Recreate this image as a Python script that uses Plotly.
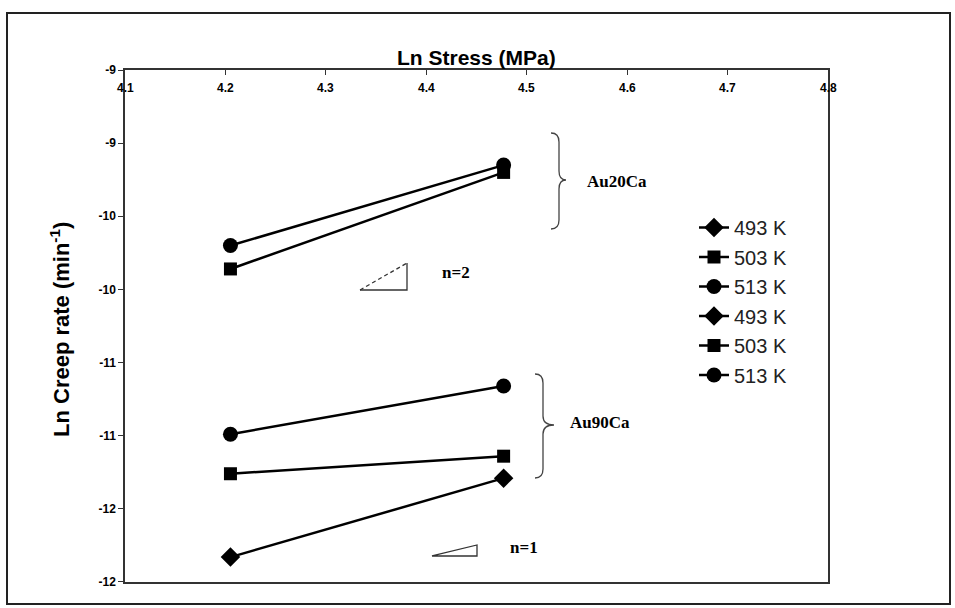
import plotly.graph_objects as go

# ---- data -------------------------------------------------------------
ln_stress = [4.205, 4.477]

au20_493 = [None, None]          # no Au20Ca points at 493 K
au20_503 = [-9.86, -9.20]
au20_513 = [-9.70, -9.15]
au90_493 = [-11.83, -11.29]
au90_503 = [-11.26, -11.14]
au90_513 = [-10.99, -10.66]

series_names = ["493 K", "503 K", "513 K", "493 K", "503 K", "513 K"]
series_values = [au20_493, au20_503, au20_513, au90_493, au90_503, au90_513]
series_symbols = ["diamond", "square", "circle", "diamond", "square", "circle"]

x_ticks = [4.1, 4.2, 4.3, 4.4, 4.5, 4.6, 4.7, 4.8]
x_tick_labels = ["4.1", "4.2", "4.3", "4.4", "4.5", "4.6", "4.7", "4.8"]
y_ticks = [-12, -11.5, -11, -10.5, -10, -9.5, -9, -8.5]
y_tick_labels = ["-12", "-12", "-11", "-11", "-10", "-10", "-9", "-9"]

# ---- geometry helpers (pixel -> data) ---------------------------------
PL, PR, PT, PB = 125, 828, 70, 582
X0, X1, Y0, Y1 = 4.1, 4.8, -12.0, -8.5
W, H = 955, 608
EPS = 1e-4


def dx(px):
    return X0 + (px - PL) / (PR - PL) * (X1 - X0)


def dy(py):
    return Y0 + (PB - py) / (PB - PT) * (Y1 - Y0)


def pt(px, py):
    return f"{dx(px):.5f},{dy(py):.5f}"


def brace(xh, xv, xt, yt, ym, yb):
    r = 9
    return (f"M {pt(xh, yt)} Q {pt(xv, yt)} {pt(xv, yt + r)} "
            f"L {pt(xv, ym - r)} Q {pt(xv, ym)} {pt(xt, ym)} "
            f"Q {pt(xv, ym)} {pt(xv, ym + r)} "
            f"L {pt(xv, yb - r)} Q {pt(xv, yb)} {pt(xh, yb)}")


fig = go.Figure()

sizes = {"diamond": 15, "square": 13, "circle": 15}
for i, (name, vals, sym) in enumerate(zip(series_names, series_values, series_symbols)):
    fig.add_trace(go.Scatter(
        x=ln_stress, y=vals, name=name, mode="lines+markers",
        line=dict(color="black", width=2.5),
        marker=dict(symbol=sym, size=sizes[sym], color="black"),
        legendgroup=f"g{i}", cliponaxis=False,
    ))

fig.update_xaxes(
    range=[X0, X1], side="top", tickmode="array", tickvals=x_ticks,
    showticklabels=False,
    ticks="inside", ticklen=5, tickcolor="#333",
    showline=True, linecolor="#333", linewidth=1.5, mirror=True,
    showgrid=False, zeroline=False,
)
fig.update_yaxes(
    range=[Y0 - EPS, Y1 + EPS], tickmode="array", tickvals=y_ticks, ticktext=y_tick_labels,
    ticks="outside", ticklen=5, tickcolor="#333",
    tickfont=dict(family="Liberation Sans", size=12, color="black", weight="bold"),
    showline=True, linecolor="#333", linewidth=1.5, mirror=True,
    showgrid=False, zeroline=False,
)

shapes = [
    # outer frame
    dict(type="rect", xref="paper", yref="paper",
         x0=(7 - PL) / (PR - PL), x1=(950 - PL) / (PR - PL),
         y0=(PB - 604) / (PB - PT), y1=(PB - 13) / (PB - PT),
         line=dict(color="#222", width=2)),
    # braces
    dict(type="path", xref="x", yref="y",
         path=brace(551, 559, 566, 133, 180, 229),
         line=dict(color="#444", width=1.3)),
    dict(type="path", xref="x", yref="y",
         path=brace(535, 543, 554, 374, 425, 478),
         line=dict(color="#444", width=1.3)),
    # n=2 slope triangle (legs solid, hypotenuse dashed)
    dict(type="path", xref="x", yref="y",
         path=f"M {pt(360, 290)} L {pt(407, 290)} L {pt(407, 263)}",
         line=dict(color="#333", width=1.3)),
    dict(type="line", xref="x", yref="y",
         x0=dx(360), y0=dy(290), x1=dx(407), y1=dy(263),
         line=dict(color="#333", width=1.3, dash="4px,3px")),
    # n=1 slope triangle
    dict(type="path", xref="x", yref="y",
         path=f"M {pt(432, 556)} L {pt(477, 556)} L {pt(477, 545)} Z",
         line=dict(color="#333", width=1.3)),
]

serif_bold = dict(family="Liberation Serif", size=17, color="black", weight="bold")
annotations = [
    dict(text="Ln Stress (MPa)", xref="paper", yref="paper",
         x=(476 - PL) / (PR - PL), y=(PB - 57) / (PB - PT),
         showarrow=False, xanchor="center", yanchor="middle",
         font=dict(family="Liberation Sans", size=21, color="black", weight="bold")),
    dict(text="Ln Creep rate (min<sup>-1</sup>)", xref="paper", yref="paper",
         x=(60 - PL) / (PR - PL), y=(PB - 330) / (PB - PT), textangle=-90,
         showarrow=False, xanchor="center", yanchor="middle",
         font=dict(family="Liberation Sans", size=22, color="black", weight="bold")),
    dict(text="Au20Ca", x=dx(585), y=dy(181), xanchor="left", yanchor="middle",
         showarrow=False, font=serif_bold),
    dict(text="Au90Ca", x=dx(568), y=dy(423), xanchor="left", yanchor="middle",
         showarrow=False, font=serif_bold),
    dict(text="n=2", x=dx(440), y=dy(272), xanchor="left", yanchor="middle",
         showarrow=False, font=serif_bold),
    dict(text="n=1", x=dx(508), y=dy(548), xanchor="left", yanchor="middle",
         showarrow=False, font=serif_bold),
]

# x tick labels sit just below the top axis line, inside the plot frame
for v, lab in zip(x_ticks, x_tick_labels):
    annotations.append(dict(
        text=lab, x=v, xref="x", y=(PB - 88) / (PB - PT), yref="paper",
        showarrow=False, xanchor="center", yanchor="middle",
        font=dict(family="Liberation Sans", size=12, color="black", weight="bold")))

fig.update_layout(
    width=W, height=H,
    margin=dict(l=PL, r=W - PR, t=PT, b=H - PB),
    paper_bgcolor="white", plot_bgcolor="white",
    shapes=shapes, annotations=annotations,
    showlegend=True,
    legend=dict(x=(694 - PL) / (PR - PL), y=(PB - 208) / (PB - PT),
                xanchor="left", yanchor="top",
                font=dict(family="Liberation Sans", size=20, color="#222"),
                bgcolor="rgba(0,0,0,0)", tracegroupgap=0.5,
                itemwidth=30),
)

fig.write_html("out.html")
